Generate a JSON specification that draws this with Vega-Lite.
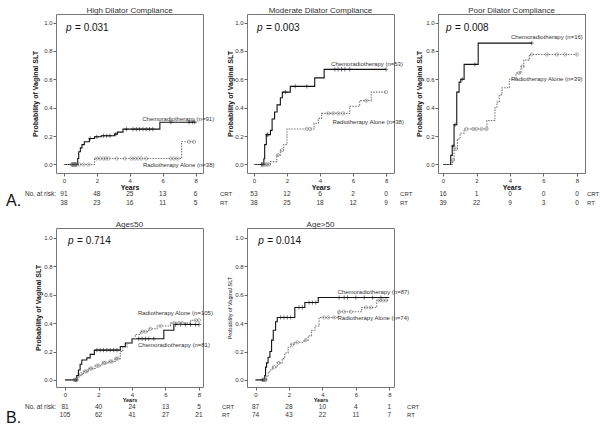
{
"$schema":"https://vega.github.io/schema/vega-lite/v6.json",
"padding":{"left":5,"top":6,"right":0,"bottom":0},
"columns":3,
"spacing":{"row":55,"column":44},
"bounds":"flush",
"datasets":{
"km":[
{"g":"H","a":"CRT","t":0,"p":0},{"g":"H","a":"CRT","t":0.84,"p":0.042},{"g":"H","a":"CRT","t":0.9,"p":0.09},{"g":"H","a":"CRT","t":1.0,"p":0.117},{"g":"H","a":"CRT","t":1.1,"p":0.14},{"g":"H","a":"CRT","t":1.24,"p":0.16},{"g":"H","a":"CRT","t":1.55,"p":0.183},{"g":"H","a":"CRT","t":1.86,"p":0.195},{"g":"H","a":"CRT","t":2.27,"p":0.202},{"g":"H","a":"CRT","t":3.08,"p":0.214},{"g":"H","a":"CRT","t":3.25,"p":0.228},{"g":"H","a":"CRT","t":3.59,"p":0.249},{"g":"H","a":"CRT","t":5.83,"p":0.298},{"g":"H","a":"CRT","t":8.0,"p":0.298},
{"g":"H","a":"RT","t":0,"p":0},{"g":"H","a":"RT","t":1.86,"p":0.042},{"g":"H","a":"RT","t":7.15,"p":0.16},{"g":"H","a":"RT","t":8.0,"p":0.16},
{"g":"M","a":"CRT","t":0,"p":0},{"g":"M","a":"CRT","t":0.6,"p":0.04},{"g":"M","a":"CRT","t":0.65,"p":0.14},{"g":"M","a":"CRT","t":0.75,"p":0.21},{"g":"M","a":"CRT","t":1.0,"p":0.24},{"g":"M","a":"CRT","t":1.1,"p":0.32},{"g":"M","a":"CRT","t":1.25,"p":0.37},{"g":"M","a":"CRT","t":1.4,"p":0.42},{"g":"M","a":"CRT","t":1.6,"p":0.47},{"g":"M","a":"CRT","t":1.72,"p":0.51},{"g":"M","a":"CRT","t":2.2,"p":0.55},{"g":"M","a":"CRT","t":3.68,"p":0.61},{"g":"M","a":"CRT","t":4.25,"p":0.67},{"g":"M","a":"CRT","t":8.0,"p":0.67},
{"g":"M","a":"RT","t":0,"p":0},{"g":"M","a":"RT","t":1.0,"p":0.02},{"g":"M","a":"RT","t":1.38,"p":0.066},{"g":"M","a":"RT","t":1.6,"p":0.1},{"g":"M","a":"RT","t":1.8,"p":0.14},{"g":"M","a":"RT","t":2.0,"p":0.25},{"g":"M","a":"RT","t":3.64,"p":0.29},{"g":"M","a":"RT","t":3.9,"p":0.325},{"g":"M","a":"RT","t":4.1,"p":0.36},{"g":"M","a":"RT","t":5.8,"p":0.41},{"g":"M","a":"RT","t":6.4,"p":0.45},{"g":"M","a":"RT","t":7.1,"p":0.51},{"g":"M","a":"RT","t":8.0,"p":0.51},
{"g":"P","a":"CRT","t":0,"p":0},{"g":"P","a":"CRT","t":0.46,"p":0.064},{"g":"P","a":"CRT","t":0.55,"p":0.13},{"g":"P","a":"CRT","t":0.66,"p":0.28},{"g":"P","a":"CRT","t":0.82,"p":0.51},{"g":"P","a":"CRT","t":0.96,"p":0.58},{"g":"P","a":"CRT","t":1.06,"p":0.6},{"g":"P","a":"CRT","t":1.26,"p":0.705},{"g":"P","a":"CRT","t":2.1,"p":0.855},{"g":"P","a":"CRT","t":5.3,"p":0.855},
{"g":"P","a":"RT","t":0,"p":0},{"g":"P","a":"RT","t":0.56,"p":0.03},{"g":"P","a":"RT","t":0.66,"p":0.11},{"g":"P","a":"RT","t":0.86,"p":0.18},{"g":"P","a":"RT","t":1.02,"p":0.22},{"g":"P","a":"RT","t":1.26,"p":0.25},{"g":"P","a":"RT","t":2.62,"p":0.31},{"g":"P","a":"RT","t":3.1,"p":0.4},{"g":"P","a":"RT","t":3.22,"p":0.44},{"g":"P","a":"RT","t":3.36,"p":0.49},{"g":"P","a":"RT","t":3.52,"p":0.54},{"g":"P","a":"RT","t":3.96,"p":0.6},{"g":"P","a":"RT","t":4.36,"p":0.645},{"g":"P","a":"RT","t":4.66,"p":0.69},{"g":"P","a":"RT","t":4.82,"p":0.735},{"g":"P","a":"RT","t":5.16,"p":0.775},{"g":"P","a":"RT","t":8.0,"p":0.775},
{"g":"Y","a":"CRT","t":0,"p":0},{"g":"Y","a":"CRT","t":0.7,"p":0.03},{"g":"Y","a":"CRT","t":0.8,"p":0.07},{"g":"Y","a":"CRT","t":0.9,"p":0.11},{"g":"Y","a":"CRT","t":1.0,"p":0.14},{"g":"Y","a":"CRT","t":1.3,"p":0.155},{"g":"Y","a":"CRT","t":1.5,"p":0.18},{"g":"Y","a":"CRT","t":1.75,"p":0.21},{"g":"Y","a":"CRT","t":3.3,"p":0.235},{"g":"Y","a":"CRT","t":3.6,"p":0.26},{"g":"Y","a":"CRT","t":4.0,"p":0.29},{"g":"Y","a":"CRT","t":5.9,"p":0.35},{"g":"Y","a":"CRT","t":6.5,"p":0.39},{"g":"Y","a":"CRT","t":8.0,"p":0.39},
{"g":"Y","a":"RT","t":0,"p":0},{"g":"Y","a":"RT","t":0.75,"p":0.02},{"g":"Y","a":"RT","t":0.9,"p":0.04},{"g":"Y","a":"RT","t":1.1,"p":0.06},{"g":"Y","a":"RT","t":1.4,"p":0.08},{"g":"Y","a":"RT","t":1.8,"p":0.1},{"g":"Y","a":"RT","t":2.2,"p":0.12},{"g":"Y","a":"RT","t":2.6,"p":0.13},{"g":"Y","a":"RT","t":3.0,"p":0.15},{"g":"Y","a":"RT","t":3.3,"p":0.2},{"g":"Y","a":"RT","t":3.45,"p":0.23},{"g":"Y","a":"RT","t":3.7,"p":0.26},{"g":"Y","a":"RT","t":4.0,"p":0.29},{"g":"Y","a":"RT","t":4.2,"p":0.32},{"g":"Y","a":"RT","t":4.5,"p":0.34},{"g":"Y","a":"RT","t":5.0,"p":0.36},{"g":"Y","a":"RT","t":5.5,"p":0.38},{"g":"Y","a":"RT","t":6.3,"p":0.4},{"g":"Y","a":"RT","t":7.5,"p":0.42},{"g":"Y","a":"RT","t":8.0,"p":0.42},
{"g":"O","a":"CRT","t":0,"p":0},{"g":"O","a":"CRT","t":0.55,"p":0.03},{"g":"O","a":"CRT","t":0.6,"p":0.09},{"g":"O","a":"CRT","t":0.66,"p":0.12},{"g":"O","a":"CRT","t":0.75,"p":0.16},{"g":"O","a":"CRT","t":0.86,"p":0.2},{"g":"O","a":"CRT","t":0.96,"p":0.28},{"g":"O","a":"CRT","t":1.06,"p":0.35},{"g":"O","a":"CRT","t":1.2,"p":0.41},{"g":"O","a":"CRT","t":1.3,"p":0.44},{"g":"O","a":"CRT","t":2.35,"p":0.51},{"g":"O","a":"CRT","t":2.95,"p":0.545},{"g":"O","a":"CRT","t":3.75,"p":0.58},{"g":"O","a":"CRT","t":8.0,"p":0.58},
{"g":"O","a":"RT","t":0,"p":0},{"g":"O","a":"RT","t":0.65,"p":0.02},{"g":"O","a":"RT","t":0.75,"p":0.05},{"g":"O","a":"RT","t":0.85,"p":0.07},{"g":"O","a":"RT","t":1.0,"p":0.09},{"g":"O","a":"RT","t":1.3,"p":0.12},{"g":"O","a":"RT","t":1.6,"p":0.15},{"g":"O","a":"RT","t":1.75,"p":0.19},{"g":"O","a":"RT","t":1.95,"p":0.23},{"g":"O","a":"RT","t":2.1,"p":0.25},{"g":"O","a":"RT","t":2.35,"p":0.265},{"g":"O","a":"RT","t":2.9,"p":0.28},{"g":"O","a":"RT","t":3.15,"p":0.31},{"g":"O","a":"RT","t":3.35,"p":0.35},{"g":"O","a":"RT","t":3.55,"p":0.38},{"g":"O","a":"RT","t":3.8,"p":0.44},{"g":"O","a":"RT","t":4.95,"p":0.48},{"g":"O","a":"RT","t":6.35,"p":0.51},{"g":"O","a":"RT","t":7.25,"p":0.56},{"g":"O","a":"RT","t":8.0,"p":0.56}
],
"cens":[
{"g":"H","a":"CRT","t":0.5,"p":0},{"g":"H","a":"CRT","t":0.55,"p":0},{"g":"H","a":"CRT","t":0.6,"p":0},{"g":"H","a":"CRT","t":0.65,"p":0},{"g":"H","a":"CRT","t":0.7,"p":0},{"g":"H","a":"CRT","t":0.75,"p":0},{"g":"H","a":"CRT","t":1.6,"p":0.183},{"g":"H","a":"CRT","t":2.0,"p":0.195},{"g":"H","a":"CRT","t":2.4,"p":0.202},{"g":"H","a":"CRT","t":2.6,"p":0.202},{"g":"H","a":"CRT","t":2.8,"p":0.202},{"g":"H","a":"CRT","t":3.15,"p":0.214},{"g":"H","a":"CRT","t":3.8,"p":0.249},{"g":"H","a":"CRT","t":4.2,"p":0.249},{"g":"H","a":"CRT","t":4.4,"p":0.249},{"g":"H","a":"CRT","t":4.6,"p":0.249},{"g":"H","a":"CRT","t":4.8,"p":0.249},{"g":"H","a":"CRT","t":5.0,"p":0.249},{"g":"H","a":"CRT","t":5.2,"p":0.249},{"g":"H","a":"CRT","t":5.4,"p":0.249},{"g":"H","a":"CRT","t":6.5,"p":0.298},{"g":"H","a":"CRT","t":7.6,"p":0.298},{"g":"H","a":"CRT","t":7.8,"p":0.298},{"g":"H","a":"CRT","t":7.95,"p":0.298},
{"g":"H","a":"RT","t":0.45,"p":0},{"g":"H","a":"RT","t":0.55,"p":0},{"g":"H","a":"RT","t":0.6,"p":0},{"g":"H","a":"RT","t":0.7,"p":0},{"g":"H","a":"RT","t":0.8,"p":0},{"g":"H","a":"RT","t":0.95,"p":0},{"g":"H","a":"RT","t":1.2,"p":0},{"g":"H","a":"RT","t":1.5,"p":0},{"g":"H","a":"RT","t":2.0,"p":0.042},{"g":"H","a":"RT","t":2.2,"p":0.042},{"g":"H","a":"RT","t":2.4,"p":0.042},{"g":"H","a":"RT","t":2.55,"p":0.042},{"g":"H","a":"RT","t":2.7,"p":0.042},{"g":"H","a":"RT","t":3.2,"p":0.042},{"g":"H","a":"RT","t":3.7,"p":0.042},{"g":"H","a":"RT","t":4.1,"p":0.042},{"g":"H","a":"RT","t":4.3,"p":0.042},{"g":"H","a":"RT","t":4.5,"p":0.042},{"g":"H","a":"RT","t":4.7,"p":0.042},{"g":"H","a":"RT","t":5.0,"p":0.042},{"g":"H","a":"RT","t":6.5,"p":0.042},{"g":"H","a":"RT","t":6.7,"p":0.042},{"g":"H","a":"RT","t":6.9,"p":0.042},{"g":"H","a":"RT","t":7.6,"p":0.16},{"g":"H","a":"RT","t":7.9,"p":0.16},
{"g":"M","a":"CRT","t":0.45,"p":0},{"g":"M","a":"CRT","t":0.5,"p":0},{"g":"M","a":"CRT","t":0.55,"p":0},{"g":"M","a":"CRT","t":0.8,"p":0.21},{"g":"M","a":"CRT","t":0.85,"p":0.21},{"g":"M","a":"CRT","t":1.9,"p":0.51},{"g":"M","a":"CRT","t":2.5,"p":0.55},{"g":"M","a":"CRT","t":3.2,"p":0.55},{"g":"M","a":"CRT","t":4.9,"p":0.67},{"g":"M","a":"CRT","t":5.1,"p":0.67},{"g":"M","a":"CRT","t":5.3,"p":0.67},{"g":"M","a":"CRT","t":5.5,"p":0.67},{"g":"M","a":"CRT","t":5.8,"p":0.67},{"g":"M","a":"CRT","t":8.0,"p":0.67},
{"g":"M","a":"RT","t":0.6,"p":0},{"g":"M","a":"RT","t":0.7,"p":0},{"g":"M","a":"RT","t":0.8,"p":0},{"g":"M","a":"RT","t":0.9,"p":0},{"g":"M","a":"RT","t":1.45,"p":0.066},{"g":"M","a":"RT","t":1.7,"p":0.1},{"g":"M","a":"RT","t":3.2,"p":0.25},{"g":"M","a":"RT","t":3.4,"p":0.25},{"g":"M","a":"RT","t":4.5,"p":0.36},{"g":"M","a":"RT","t":4.8,"p":0.36},{"g":"M","a":"RT","t":5.1,"p":0.36},{"g":"M","a":"RT","t":5.4,"p":0.36},{"g":"M","a":"RT","t":6.8,"p":0.45},{"g":"M","a":"RT","t":8.0,"p":0.51},
{"g":"P","a":"CRT","t":0.6,"p":0.13},{"g":"P","a":"CRT","t":0.72,"p":0.28},{"g":"P","a":"CRT","t":1.15,"p":0.6},{"g":"P","a":"CRT","t":1.9,"p":0.705},{"g":"P","a":"CRT","t":5.3,"p":0.855},
{"g":"P","a":"RT","t":0.6,"p":0.03},{"g":"P","a":"RT","t":0.75,"p":0.11},{"g":"P","a":"RT","t":1.4,"p":0.25},{"g":"P","a":"RT","t":1.8,"p":0.25},{"g":"P","a":"RT","t":2.0,"p":0.25},{"g":"P","a":"RT","t":2.3,"p":0.25},{"g":"P","a":"RT","t":2.6,"p":0.25},{"g":"P","a":"RT","t":4.55,"p":0.645},{"g":"P","a":"RT","t":4.75,"p":0.69},{"g":"P","a":"RT","t":5.3,"p":0.775},{"g":"P","a":"RT","t":6.2,"p":0.775},{"g":"P","a":"RT","t":6.8,"p":0.775},{"g":"P","a":"RT","t":7.3,"p":0.775},{"g":"P","a":"RT","t":8.0,"p":0.775},
{"g":"Y","a":"CRT","t":0.6,"p":0},{"g":"Y","a":"CRT","t":0.65,"p":0},{"g":"Y","a":"CRT","t":1.9,"p":0.21},{"g":"Y","a":"CRT","t":2.1,"p":0.21},{"g":"Y","a":"CRT","t":2.3,"p":0.21},{"g":"Y","a":"CRT","t":2.5,"p":0.21},{"g":"Y","a":"CRT","t":2.7,"p":0.21},{"g":"Y","a":"CRT","t":2.9,"p":0.21},{"g":"Y","a":"CRT","t":3.1,"p":0.21},{"g":"Y","a":"CRT","t":4.4,"p":0.29},{"g":"Y","a":"CRT","t":4.6,"p":0.29},{"g":"Y","a":"CRT","t":4.8,"p":0.29},{"g":"Y","a":"CRT","t":5.0,"p":0.29},{"g":"Y","a":"CRT","t":5.3,"p":0.29},{"g":"Y","a":"CRT","t":6.6,"p":0.39},{"g":"Y","a":"CRT","t":6.9,"p":0.39},{"g":"Y","a":"CRT","t":7.2,"p":0.39},{"g":"Y","a":"CRT","t":7.5,"p":0.39},{"g":"Y","a":"CRT","t":7.8,"p":0.39},{"g":"Y","a":"CRT","t":8.0,"p":0.39},
{"g":"Y","a":"RT","t":0.55,"p":0},{"g":"Y","a":"RT","t":0.65,"p":0},{"g":"Y","a":"RT","t":0.7,"p":0},{"g":"Y","a":"RT","t":0.95,"p":0.04},{"g":"Y","a":"RT","t":1.2,"p":0.06},{"g":"Y","a":"RT","t":1.3,"p":0.06},{"g":"Y","a":"RT","t":1.5,"p":0.08},{"g":"Y","a":"RT","t":1.6,"p":0.08},{"g":"Y","a":"RT","t":1.9,"p":0.1},{"g":"Y","a":"RT","t":2.0,"p":0.1},{"g":"Y","a":"RT","t":2.3,"p":0.12},{"g":"Y","a":"RT","t":2.4,"p":0.12},{"g":"Y","a":"RT","t":2.7,"p":0.13},{"g":"Y","a":"RT","t":2.8,"p":0.13},{"g":"Y","a":"RT","t":3.05,"p":0.15},{"g":"Y","a":"RT","t":3.15,"p":0.15},{"g":"Y","a":"RT","t":4.6,"p":0.34},{"g":"Y","a":"RT","t":4.8,"p":0.34},{"g":"Y","a":"RT","t":5.1,"p":0.36},{"g":"Y","a":"RT","t":5.7,"p":0.38},{"g":"Y","a":"RT","t":6.5,"p":0.4},{"g":"Y","a":"RT","t":6.8,"p":0.4},{"g":"Y","a":"RT","t":7.0,"p":0.4},{"g":"Y","a":"RT","t":7.8,"p":0.42},{"g":"Y","a":"RT","t":8.0,"p":0.42},
{"g":"O","a":"CRT","t":0.4,"p":0},{"g":"O","a":"CRT","t":0.5,"p":0},{"g":"O","a":"CRT","t":1.5,"p":0.44},{"g":"O","a":"CRT","t":1.7,"p":0.44},{"g":"O","a":"CRT","t":1.9,"p":0.44},{"g":"O","a":"CRT","t":2.1,"p":0.44},{"g":"O","a":"CRT","t":2.6,"p":0.51},{"g":"O","a":"CRT","t":2.8,"p":0.51},{"g":"O","a":"CRT","t":3.2,"p":0.545},{"g":"O","a":"CRT","t":3.4,"p":0.545},{"g":"O","a":"CRT","t":3.6,"p":0.545},{"g":"O","a":"CRT","t":5.0,"p":0.58},{"g":"O","a":"CRT","t":5.3,"p":0.58},{"g":"O","a":"CRT","t":5.5,"p":0.58},{"g":"O","a":"CRT","t":6.0,"p":0.58},{"g":"O","a":"CRT","t":6.5,"p":0.58},{"g":"O","a":"CRT","t":7.0,"p":0.58},{"g":"O","a":"CRT","t":7.5,"p":0.58},
{"g":"O","a":"RT","t":0.45,"p":0},{"g":"O","a":"RT","t":0.55,"p":0},{"g":"O","a":"RT","t":0.6,"p":0},{"g":"O","a":"RT","t":1.1,"p":0.09},{"g":"O","a":"RT","t":1.4,"p":0.12},{"g":"O","a":"RT","t":2.2,"p":0.25},{"g":"O","a":"RT","t":2.5,"p":0.265},{"g":"O","a":"RT","t":3.0,"p":0.28},{"g":"O","a":"RT","t":4.1,"p":0.44},{"g":"O","a":"RT","t":4.35,"p":0.44},{"g":"O","a":"RT","t":4.7,"p":0.44},{"g":"O","a":"RT","t":5.0,"p":0.48},{"g":"O","a":"RT","t":5.3,"p":0.48},{"g":"O","a":"RT","t":5.7,"p":0.48},{"g":"O","a":"RT","t":6.6,"p":0.51},{"g":"O","a":"RT","t":6.9,"p":0.51},{"g":"O","a":"RT","t":7.4,"p":0.56},{"g":"O","a":"RT","t":7.6,"p":0.56},{"g":"O","a":"RT","t":7.8,"p":0.56}
],
"risk":[
{"g":"H","a":"CRT","t":0,"n":"91"},{"g":"H","a":"CRT","t":2,"n":"48"},{"g":"H","a":"CRT","t":4,"n":"25"},{"g":"H","a":"CRT","t":6,"n":"13"},{"g":"H","a":"CRT","t":8,"n":"6"},
{"g":"H","a":"RT","t":0,"n":"38"},{"g":"H","a":"RT","t":2,"n":"23"},{"g":"H","a":"RT","t":4,"n":"16"},{"g":"H","a":"RT","t":6,"n":"11"},{"g":"H","a":"RT","t":8,"n":"5"},
{"g":"M","a":"CRT","t":0,"n":"53"},{"g":"M","a":"CRT","t":2,"n":"12"},{"g":"M","a":"CRT","t":4,"n":"6"},{"g":"M","a":"CRT","t":6,"n":"2"},{"g":"M","a":"CRT","t":8,"n":"0"},
{"g":"M","a":"RT","t":0,"n":"38"},{"g":"M","a":"RT","t":2,"n":"25"},{"g":"M","a":"RT","t":4,"n":"18"},{"g":"M","a":"RT","t":6,"n":"12"},{"g":"M","a":"RT","t":8,"n":"9"},
{"g":"P","a":"CRT","t":0,"n":"16"},{"g":"P","a":"CRT","t":2,"n":"1"},{"g":"P","a":"CRT","t":4,"n":"0"},{"g":"P","a":"CRT","t":6,"n":"0"},{"g":"P","a":"CRT","t":8,"n":"0"},
{"g":"P","a":"RT","t":0,"n":"39"},{"g":"P","a":"RT","t":2,"n":"22"},{"g":"P","a":"RT","t":4,"n":"9"},{"g":"P","a":"RT","t":6,"n":"3"},{"g":"P","a":"RT","t":8,"n":"0"},
{"g":"Y","a":"CRT","t":0,"n":"81"},{"g":"Y","a":"CRT","t":2,"n":"40"},{"g":"Y","a":"CRT","t":4,"n":"24"},{"g":"Y","a":"CRT","t":6,"n":"13"},{"g":"Y","a":"CRT","t":8,"n":"5"},
{"g":"Y","a":"RT","t":0,"n":"105"},{"g":"Y","a":"RT","t":2,"n":"62"},{"g":"Y","a":"RT","t":4,"n":"41"},{"g":"Y","a":"RT","t":6,"n":"27"},{"g":"Y","a":"RT","t":8,"n":"21"},
{"g":"O","a":"CRT","t":0,"n":"87"},{"g":"O","a":"CRT","t":2,"n":"28"},{"g":"O","a":"CRT","t":4,"n":"10"},{"g":"O","a":"CRT","t":6,"n":"4"},{"g":"O","a":"CRT","t":8,"n":"1"},
{"g":"O","a":"RT","t":0,"n":"74"},{"g":"O","a":"RT","t":2,"n":"43"},{"g":"O","a":"RT","t":4,"n":"22"},{"g":"O","a":"RT","t":6,"n":"11"},{"g":"O","a":"RT","t":8,"n":"7"}
]
},
"concat":[
{"width":147,"height":159,"title":"High Dilator Compliance","resolve":{"axis":{"x":"independent","y":"independent"}},"layer":[
{"data":{"name":"km"},"transform":[{"filter":"datum.g=='H'"}],"mark":{"type":"line","interpolate":"step-after","strokeWidth":1.1},"encoding":{"x":{"field":"t","type":"quantitative","scale":{"domain":[-0.48,8.45],"nice":false,"zero":false},"axis":{"values":[0,2,4,6,8],"labelOverlap":false,"title":"Years","titlePadding":0}},"y":{"field":"p","type":"quantitative","scale":{"domain":[-0.06,1.06],"nice":false,"zero":false},"axis":{"values":[0,0.2,0.4,0.6,0.8,1],"labelOverlap":false,"format":".1f","title":"Probability of Vaginal SLT","titlePadding":5}},"color":{"field":"a","type":"nominal","scale":{"domain":["CRT","RT"],"range":["#111111","#777777"]},"legend":null},"strokeDash":{"field":"a","type":"nominal","scale":{"domain":["CRT","RT"],"range":[[1,0],[1.5,1.2]]},"legend":null}}},
{"data":{"name":"cens"},"transform":[{"filter":"datum.g=='H'"}],"mark":{"type":"point","filled":false,"size":11,"strokeWidth":0.8},"encoding":{"x":{"field":"t","type":"quantitative","scale":{"domain":[-0.48,8.45],"nice":false,"zero":false},"axis":null},"y":{"field":"p","type":"quantitative","scale":{"domain":[-0.06,1.06],"nice":false,"zero":false},"axis":null},"color":{"field":"a","type":"nominal","scale":{"domain":["CRT","RT"],"range":["#111111","#777777"]},"legend":null},"shape":{"field":"a","type":"nominal","scale":{"domain":["CRT","RT"],"range":["M0,-1.3L0,1.3M-1.3,0L1.3,0","circle"]},"legend":null}}},
{"data":{"values":[{}]},"mark":{"type":"text","text":"p","font":"Liberation Sans","fontSize":10,"fontStyle":"italic","align":"left","baseline":"middle","fill":"#111111"},"encoding":{"x":{"datum":0.13,"type":"quantitative","scale":{"domain":[-0.48,8.45],"nice":false,"zero":false},"axis":null},"y":{"datum":0.96,"type":"quantitative","scale":{"domain":[-0.06,1.06],"nice":false,"zero":false},"axis":null}}},
{"data":{"values":[{}]},"mark":{"type":"text","text":"= 0.031","font":"Liberation Sans","fontSize":10,"align":"left","baseline":"middle","dx":9,"fill":"#111111"},"encoding":{"x":{"datum":0.13,"type":"quantitative","scale":{"domain":[-0.48,8.45],"nice":false,"zero":false},"axis":null},"y":{"datum":0.96,"type":"quantitative","scale":{"domain":[-0.06,1.06],"nice":false,"zero":false},"axis":null}}},
{"data":{"values":[{}]},"mark":{"type":"text","text":"Chemoradiotherapy (n=91)","font":"Liberation Sans","fontSize":6,"align":"left","baseline":"middle","fill":"#333333"},"encoding":{"x":{"datum":4.76,"type":"quantitative","scale":{"domain":[-0.48,8.45],"nice":false,"zero":false},"axis":null},"y":{"datum":0.32,"type":"quantitative","scale":{"domain":[-0.06,1.06],"nice":false,"zero":false},"axis":null}}},
{"data":{"values":[{}]},"mark":{"type":"text","text":"Radiotherapy Alone (n=38)","font":"Liberation Sans","fontSize":6,"align":"left","baseline":"middle","fill":"#333333"},"encoding":{"x":{"datum":4.8,"type":"quantitative","scale":{"domain":[-0.48,8.45],"nice":false,"zero":false},"axis":null},"y":{"datum":-0.005,"type":"quantitative","scale":{"domain":[-0.06,1.06],"nice":false,"zero":false},"axis":null}}},
{"data":{"name":"risk"},"transform":[{"filter":"datum.g=='H' && datum.a=='CRT'"}],"mark":{"type":"text","font":"Liberation Sans","fontSize":6.5,"baseline":"middle","fill":"#333333"},"encoding":{"x":{"field":"t","type":"quantitative","scale":{"domain":[-0.48,8.45],"nice":false,"zero":false},"axis":null},"y":{"datum":-0.211,"type":"quantitative","scale":{"domain":[-0.06,1.06],"nice":false,"zero":false},"axis":null},"text":{"field":"n"}}},
{"data":{"name":"risk"},"transform":[{"filter":"datum.g=='H' && datum.a=='RT'"}],"mark":{"type":"text","font":"Liberation Sans","fontSize":6.5,"baseline":"middle","fill":"#333333"},"encoding":{"x":{"field":"t","type":"quantitative","scale":{"domain":[-0.48,8.45],"nice":false,"zero":false},"axis":null},"y":{"datum":-0.268,"type":"quantitative","scale":{"domain":[-0.06,1.06],"nice":false,"zero":false},"axis":null},"text":{"field":"n"}}},
{"data":{"values":[{}]},"mark":{"type":"text","text":"CRT","font":"Liberation Sans","fontSize":6,"align":"left","baseline":"middle","fill":"#333333"},"encoding":{"x":{"datum":9.48,"type":"quantitative","scale":{"domain":[-0.48,8.45],"nice":false,"zero":false},"axis":null},"y":{"datum":-0.211,"type":"quantitative","scale":{"domain":[-0.06,1.06],"nice":false,"zero":false},"axis":null}}},
{"data":{"values":[{}]},"mark":{"type":"text","text":"RT","font":"Liberation Sans","fontSize":6,"align":"left","baseline":"middle","fill":"#333333"},"encoding":{"x":{"datum":9.48,"type":"quantitative","scale":{"domain":[-0.48,8.45],"nice":false,"zero":false},"axis":null},"y":{"datum":-0.268,"type":"quantitative","scale":{"domain":[-0.06,1.06],"nice":false,"zero":false},"axis":null}}},
{"data":{"values":[{}]},"mark":{"type":"text","text":"No. at risk:","font":"Liberation Sans","fontSize":6.5,"align":"right","baseline":"middle","fill":"#333333"},"encoding":{"x":{"datum":-0.48,"type":"quantitative","scale":{"domain":[-0.48,8.45],"nice":false,"zero":false},"axis":null},"y":{"datum":-0.211,"type":"quantitative","scale":{"domain":[-0.06,1.06],"nice":false,"zero":false},"axis":null}}},
{"data":{"values":[{}]},"mark":{"type":"text","text":"A.","font":"Liberation Sans","fontSize":16,"align":"left","baseline":"middle","fill":"#111111"},"encoding":{"x":{"datum":-3.52,"type":"quantitative","scale":{"domain":[-0.48,8.45],"nice":false,"zero":false},"axis":null},"y":{"datum":-0.257,"type":"quantitative","scale":{"domain":[-0.06,1.06],"nice":false,"zero":false},"axis":null}}}
]},
{"width":147,"height":159,"title":"Moderate Dilator Compliance","resolve":{"axis":{"x":"independent","y":"independent"}},"layer":[
{"data":{"name":"km"},"transform":[{"filter":"datum.g=='M'"}],"mark":{"type":"line","interpolate":"step-after","strokeWidth":1.1},"encoding":{"x":{"field":"t","type":"quantitative","scale":{"domain":[-0.42,8.48],"nice":false,"zero":false},"axis":{"values":[0,2,4,6,8],"labelOverlap":false,"title":"Years","titlePadding":0}},"y":{"field":"p","type":"quantitative","scale":{"domain":[-0.06,1.06],"nice":false,"zero":false},"axis":{"values":[0,0.2,0.4,0.6,0.8,1],"labelOverlap":false,"format":".1f","title":"Probability of Vaginal SLT","titlePadding":1}},"color":{"field":"a","type":"nominal","scale":{"domain":["CRT","RT"],"range":["#111111","#777777"]},"legend":null},"strokeDash":{"field":"a","type":"nominal","scale":{"domain":["CRT","RT"],"range":[[1,0],[1.5,1.2]]},"legend":null}}},
{"data":{"name":"cens"},"transform":[{"filter":"datum.g=='M'"}],"mark":{"type":"point","filled":false,"size":11,"strokeWidth":0.8},"encoding":{"x":{"field":"t","type":"quantitative","scale":{"domain":[-0.42,8.48],"nice":false,"zero":false},"axis":null},"y":{"field":"p","type":"quantitative","scale":{"domain":[-0.06,1.06],"nice":false,"zero":false},"axis":null},"color":{"field":"a","type":"nominal","scale":{"domain":["CRT","RT"],"range":["#111111","#777777"]},"legend":null},"shape":{"field":"a","type":"nominal","scale":{"domain":["CRT","RT"],"range":["M0,-1.3L0,1.3M-1.3,0L1.3,0","circle"]},"legend":null}}},
{"data":{"values":[{}]},"mark":{"type":"text","text":"p","font":"Liberation Sans","fontSize":10,"fontStyle":"italic","align":"left","baseline":"middle","fill":"#111111"},"encoding":{"x":{"datum":0.18,"type":"quantitative","scale":{"domain":[-0.42,8.48],"nice":false,"zero":false},"axis":null},"y":{"datum":0.96,"type":"quantitative","scale":{"domain":[-0.06,1.06],"nice":false,"zero":false},"axis":null}}},
{"data":{"values":[{}]},"mark":{"type":"text","text":"= 0.003","font":"Liberation Sans","fontSize":10,"align":"left","baseline":"middle","dx":9,"fill":"#111111"},"encoding":{"x":{"datum":0.18,"type":"quantitative","scale":{"domain":[-0.42,8.48],"nice":false,"zero":false},"axis":null},"y":{"datum":0.96,"type":"quantitative","scale":{"domain":[-0.06,1.06],"nice":false,"zero":false},"axis":null}}},
{"data":{"values":[{}]},"mark":{"type":"text","text":"Chemoradiotherapy (n=53)","font":"Liberation Sans","fontSize":6,"align":"left","baseline":"middle","fill":"#333333"},"encoding":{"x":{"datum":4.67,"type":"quantitative","scale":{"domain":[-0.42,8.48],"nice":false,"zero":false},"axis":null},"y":{"datum":0.71,"type":"quantitative","scale":{"domain":[-0.06,1.06],"nice":false,"zero":false},"axis":null}}},
{"data":{"values":[{}]},"mark":{"type":"text","text":"Radiotherapy Alone (n=38)","font":"Liberation Sans","fontSize":6,"align":"left","baseline":"middle","fill":"#333333"},"encoding":{"x":{"datum":4.75,"type":"quantitative","scale":{"domain":[-0.42,8.48],"nice":false,"zero":false},"axis":null},"y":{"datum":0.3,"type":"quantitative","scale":{"domain":[-0.06,1.06],"nice":false,"zero":false},"axis":null}}},
{"data":{"name":"risk"},"transform":[{"filter":"datum.g=='M' && datum.a=='CRT'"}],"mark":{"type":"text","font":"Liberation Sans","fontSize":6.5,"baseline":"middle","fill":"#333333"},"encoding":{"x":{"field":"t","type":"quantitative","scale":{"domain":[-0.42,8.48],"nice":false,"zero":false},"axis":null},"y":{"datum":-0.211,"type":"quantitative","scale":{"domain":[-0.06,1.06],"nice":false,"zero":false},"axis":null},"text":{"field":"n"}}},
{"data":{"name":"risk"},"transform":[{"filter":"datum.g=='M' && datum.a=='RT'"}],"mark":{"type":"text","font":"Liberation Sans","fontSize":6.5,"baseline":"middle","fill":"#333333"},"encoding":{"x":{"field":"t","type":"quantitative","scale":{"domain":[-0.42,8.48],"nice":false,"zero":false},"axis":null},"y":{"datum":-0.268,"type":"quantitative","scale":{"domain":[-0.06,1.06],"nice":false,"zero":false},"axis":null},"text":{"field":"n"}}},
{"data":{"values":[{}]},"mark":{"type":"text","text":"CRT","font":"Liberation Sans","fontSize":6,"align":"left","baseline":"middle","fill":"#333333"},"encoding":{"x":{"datum":8.85,"type":"quantitative","scale":{"domain":[-0.42,8.48],"nice":false,"zero":false},"axis":null},"y":{"datum":-0.211,"type":"quantitative","scale":{"domain":[-0.06,1.06],"nice":false,"zero":false},"axis":null}}},
{"data":{"values":[{}]},"mark":{"type":"text","text":"RT","font":"Liberation Sans","fontSize":6,"align":"left","baseline":"middle","fill":"#333333"},"encoding":{"x":{"datum":8.85,"type":"quantitative","scale":{"domain":[-0.42,8.48],"nice":false,"zero":false},"axis":null},"y":{"datum":-0.268,"type":"quantitative","scale":{"domain":[-0.06,1.06],"nice":false,"zero":false},"axis":null}}}
]},
{"width":147,"height":159,"title":"Poor Dilator Compliance","resolve":{"axis":{"x":"independent","y":"independent"}},"layer":[
{"data":{"name":"km"},"transform":[{"filter":"datum.g=='P'"}],"mark":{"type":"line","interpolate":"step-after","strokeWidth":1.1},"encoding":{"x":{"field":"t","type":"quantitative","scale":{"domain":[-0.3,8.48],"nice":false,"zero":false},"axis":{"values":[0,2,4,6,8],"labelOverlap":false,"title":"Years","titlePadding":0}},"y":{"field":"p","type":"quantitative","scale":{"domain":[-0.06,1.06],"nice":false,"zero":false},"axis":{"values":[0,0.2,0.4,0.6,0.8,1],"labelOverlap":false,"format":".1f","title":"Probability of Vaginal SLT","titlePadding":3}},"color":{"field":"a","type":"nominal","scale":{"domain":["CRT","RT"],"range":["#111111","#777777"]},"legend":null},"strokeDash":{"field":"a","type":"nominal","scale":{"domain":["CRT","RT"],"range":[[1,0],[1.5,1.2]]},"legend":null}}},
{"data":{"name":"cens"},"transform":[{"filter":"datum.g=='P'"}],"mark":{"type":"point","filled":false,"size":11,"strokeWidth":0.8},"encoding":{"x":{"field":"t","type":"quantitative","scale":{"domain":[-0.3,8.48],"nice":false,"zero":false},"axis":null},"y":{"field":"p","type":"quantitative","scale":{"domain":[-0.06,1.06],"nice":false,"zero":false},"axis":null},"color":{"field":"a","type":"nominal","scale":{"domain":["CRT","RT"],"range":["#111111","#777777"]},"legend":null},"shape":{"field":"a","type":"nominal","scale":{"domain":["CRT","RT"],"range":["M0,-1.3L0,1.3M-1.3,0L1.3,0","circle"]},"legend":null}}},
{"data":{"values":[{}]},"mark":{"type":"text","text":"p","font":"Liberation Sans","fontSize":10,"fontStyle":"italic","align":"left","baseline":"middle","fill":"#111111"},"encoding":{"x":{"datum":0.18,"type":"quantitative","scale":{"domain":[-0.3,8.48],"nice":false,"zero":false},"axis":null},"y":{"datum":0.96,"type":"quantitative","scale":{"domain":[-0.06,1.06],"nice":false,"zero":false},"axis":null}}},
{"data":{"values":[{}]},"mark":{"type":"text","text":"= 0.008","font":"Liberation Sans","fontSize":10,"align":"left","baseline":"middle","dx":9,"fill":"#111111"},"encoding":{"x":{"datum":0.18,"type":"quantitative","scale":{"domain":[-0.3,8.48],"nice":false,"zero":false},"axis":null},"y":{"datum":0.96,"type":"quantitative","scale":{"domain":[-0.06,1.06],"nice":false,"zero":false},"axis":null}}},
{"data":{"values":[{}]},"mark":{"type":"text","text":"Chemoradiotherapy (n=16)","font":"Liberation Sans","fontSize":6,"align":"left","baseline":"middle","fill":"#333333"},"encoding":{"x":{"datum":4.06,"type":"quantitative","scale":{"domain":[-0.3,8.48],"nice":false,"zero":false},"axis":null},"y":{"datum":0.9,"type":"quantitative","scale":{"domain":[-0.06,1.06],"nice":false,"zero":false},"axis":null}}},
{"data":{"values":[{}]},"mark":{"type":"text","text":"Radiotherapy Alone (n=39)","font":"Liberation Sans","fontSize":6,"align":"left","baseline":"middle","fill":"#333333"},"encoding":{"x":{"datum":4.06,"type":"quantitative","scale":{"domain":[-0.3,8.48],"nice":false,"zero":false},"axis":null},"y":{"datum":0.6,"type":"quantitative","scale":{"domain":[-0.06,1.06],"nice":false,"zero":false},"axis":null}}},
{"data":{"name":"risk"},"transform":[{"filter":"datum.g=='P' && datum.a=='CRT'"}],"mark":{"type":"text","font":"Liberation Sans","fontSize":6.5,"baseline":"middle","fill":"#333333"},"encoding":{"x":{"field":"t","type":"quantitative","scale":{"domain":[-0.3,8.48],"nice":false,"zero":false},"axis":null},"y":{"datum":-0.211,"type":"quantitative","scale":{"domain":[-0.06,1.06],"nice":false,"zero":false},"axis":null},"text":{"field":"n"}}},
{"data":{"name":"risk"},"transform":[{"filter":"datum.g=='P' && datum.a=='RT'"}],"mark":{"type":"text","font":"Liberation Sans","fontSize":6.5,"baseline":"middle","fill":"#333333"},"encoding":{"x":{"field":"t","type":"quantitative","scale":{"domain":[-0.3,8.48],"nice":false,"zero":false},"axis":null},"y":{"datum":-0.268,"type":"quantitative","scale":{"domain":[-0.06,1.06],"nice":false,"zero":false},"axis":null},"text":{"field":"n"}}},
{"data":{"values":[{}]},"mark":{"type":"text","text":"CRT","font":"Liberation Sans","fontSize":6,"align":"left","baseline":"middle","fill":"#333333"},"encoding":{"x":{"datum":8.6,"type":"quantitative","scale":{"domain":[-0.3,8.48],"nice":false,"zero":false},"axis":null},"y":{"datum":-0.211,"type":"quantitative","scale":{"domain":[-0.06,1.06],"nice":false,"zero":false},"axis":null}}},
{"data":{"values":[{}]},"mark":{"type":"text","text":"RT","font":"Liberation Sans","fontSize":6,"align":"left","baseline":"middle","fill":"#333333"},"encoding":{"x":{"datum":8.6,"type":"quantitative","scale":{"domain":[-0.3,8.48],"nice":false,"zero":false},"axis":null},"y":{"datum":-0.268,"type":"quantitative","scale":{"domain":[-0.06,1.06],"nice":false,"zero":false},"axis":null}}}
]},
{"width":147,"height":159,"title":"Age≤50","resolve":{"axis":{"x":"independent","y":"independent"}},"layer":[
{"data":{"name":"km"},"transform":[{"filter":"datum.g=='Y'"}],"mark":{"type":"line","interpolate":"step-after","strokeWidth":1.1},"encoding":{"x":{"field":"t","type":"quantitative","scale":{"domain":[-0.54,8.24],"nice":false,"zero":false},"axis":{"values":[0,2,4,6,8],"labelOverlap":false,"title":"Years","titleFontSize":5.5,"titlePadding":0}},"y":{"field":"p","type":"quantitative","scale":{"domain":[-0.05,1.07],"nice":false,"zero":false},"axis":{"values":[0,0.2,0.4,0.6,0.8,1],"labelOverlap":false,"format":".1f","title":"Probability of Vaginal SLT","titlePadding":2}},"color":{"field":"a","type":"nominal","scale":{"domain":["CRT","RT"],"range":["#111111","#777777"]},"legend":null},"strokeDash":{"field":"a","type":"nominal","scale":{"domain":["CRT","RT"],"range":[[1,0],[1.5,1.2]]},"legend":null}}},
{"data":{"name":"cens"},"transform":[{"filter":"datum.g=='Y'"}],"mark":{"type":"point","filled":false,"size":11,"strokeWidth":0.8},"encoding":{"x":{"field":"t","type":"quantitative","scale":{"domain":[-0.54,8.24],"nice":false,"zero":false},"axis":null},"y":{"field":"p","type":"quantitative","scale":{"domain":[-0.05,1.07],"nice":false,"zero":false},"axis":null},"color":{"field":"a","type":"nominal","scale":{"domain":["CRT","RT"],"range":["#111111","#777777"]},"legend":null},"shape":{"field":"a","type":"nominal","scale":{"domain":["CRT","RT"],"range":["M0,-1.3L0,1.3M-1.3,0L1.3,0","circle"]},"legend":null}}},
{"data":{"values":[{}]},"mark":{"type":"text","text":"p","font":"Liberation Sans","fontSize":10,"fontStyle":"italic","align":"left","baseline":"middle","fill":"#111111"},"encoding":{"x":{"datum":0.18,"type":"quantitative","scale":{"domain":[-0.54,8.24],"nice":false,"zero":false},"axis":null},"y":{"datum":0.98,"type":"quantitative","scale":{"domain":[-0.05,1.07],"nice":false,"zero":false},"axis":null}}},
{"data":{"values":[{}]},"mark":{"type":"text","text":"= 0.714","font":"Liberation Sans","fontSize":10,"align":"left","baseline":"middle","dx":9,"fill":"#111111"},"encoding":{"x":{"datum":0.18,"type":"quantitative","scale":{"domain":[-0.54,8.24],"nice":false,"zero":false},"axis":null},"y":{"datum":0.98,"type":"quantitative","scale":{"domain":[-0.05,1.07],"nice":false,"zero":false},"axis":null}}},
{"data":{"values":[{}]},"mark":{"type":"text","text":"Radiotherapy Alone (n=105)","font":"Liberation Sans","fontSize":6,"align":"left","baseline":"middle","fill":"#333333"},"encoding":{"x":{"datum":4.36,"type":"quantitative","scale":{"domain":[-0.54,8.24],"nice":false,"zero":false},"axis":null},"y":{"datum":0.47,"type":"quantitative","scale":{"domain":[-0.05,1.07],"nice":false,"zero":false},"axis":null}}},
{"data":{"values":[{}]},"mark":{"type":"text","text":"Chemoradiotherapy (n=81)","font":"Liberation Sans","fontSize":6,"align":"left","baseline":"middle","fill":"#333333"},"encoding":{"x":{"datum":4.36,"type":"quantitative","scale":{"domain":[-0.54,8.24],"nice":false,"zero":false},"axis":null},"y":{"datum":0.245,"type":"quantitative","scale":{"domain":[-0.05,1.07],"nice":false,"zero":false},"axis":null}}},
{"data":{"name":"risk"},"transform":[{"filter":"datum.g=='Y' && datum.a=='CRT'"}],"mark":{"type":"text","font":"Liberation Sans","fontSize":6.5,"baseline":"middle","fill":"#333333"},"encoding":{"x":{"field":"t","type":"quantitative","scale":{"domain":[-0.54,8.24],"nice":false,"zero":false},"axis":null},"y":{"datum":-0.188,"type":"quantitative","scale":{"domain":[-0.05,1.07],"nice":false,"zero":false},"axis":null},"text":{"field":"n"}}},
{"data":{"name":"risk"},"transform":[{"filter":"datum.g=='Y' && datum.a=='RT'"}],"mark":{"type":"text","font":"Liberation Sans","fontSize":6.5,"baseline":"middle","fill":"#333333"},"encoding":{"x":{"field":"t","type":"quantitative","scale":{"domain":[-0.54,8.24],"nice":false,"zero":false},"axis":null},"y":{"datum":-0.247,"type":"quantitative","scale":{"domain":[-0.05,1.07],"nice":false,"zero":false},"axis":null},"text":{"field":"n"}}},
{"data":{"values":[{}]},"mark":{"type":"text","text":"CRT","font":"Liberation Sans","fontSize":6,"align":"left","baseline":"middle","fill":"#333333"},"encoding":{"x":{"datum":9.37,"type":"quantitative","scale":{"domain":[-0.54,8.24],"nice":false,"zero":false},"axis":null},"y":{"datum":-0.188,"type":"quantitative","scale":{"domain":[-0.05,1.07],"nice":false,"zero":false},"axis":null}}},
{"data":{"values":[{}]},"mark":{"type":"text","text":"RT","font":"Liberation Sans","fontSize":6,"align":"left","baseline":"middle","fill":"#333333"},"encoding":{"x":{"datum":9.37,"type":"quantitative","scale":{"domain":[-0.54,8.24],"nice":false,"zero":false},"axis":null},"y":{"datum":-0.247,"type":"quantitative","scale":{"domain":[-0.05,1.07],"nice":false,"zero":false},"axis":null}}},
{"data":{"values":[{}]},"mark":{"type":"text","text":"No. at risk:","font":"Liberation Sans","fontSize":6.5,"align":"right","baseline":"middle","fill":"#333333"},"encoding":{"x":{"datum":-0.54,"type":"quantitative","scale":{"domain":[-0.54,8.24],"nice":false,"zero":false},"axis":null},"y":{"datum":-0.188,"type":"quantitative","scale":{"domain":[-0.05,1.07],"nice":false,"zero":false},"axis":null}}},
{"data":{"values":[{}]},"mark":{"type":"text","text":"B.","font":"Liberation Sans","fontSize":16,"align":"left","baseline":"middle","fill":"#111111"},"encoding":{"x":{"datum":-3.52,"type":"quantitative","scale":{"domain":[-0.54,8.24],"nice":false,"zero":false},"axis":null},"y":{"datum":-0.266,"type":"quantitative","scale":{"domain":[-0.05,1.07],"nice":false,"zero":false},"axis":null}}}
]},
{"width":147,"height":159,"title":"Age>50","resolve":{"axis":{"x":"independent","y":"independent"}},"layer":[
{"data":{"name":"km"},"transform":[{"filter":"datum.g=='O'"}],"mark":{"type":"line","interpolate":"step-after","strokeWidth":1.1},"encoding":{"x":{"field":"t","type":"quantitative","scale":{"domain":[-0.51,8.28],"nice":false,"zero":false},"axis":{"values":[0,2,4,6,8],"labelOverlap":false,"title":"Years","titleFontSize":5.5,"titlePadding":0}},"y":{"field":"p","type":"quantitative","scale":{"domain":[-0.05,1.07],"nice":false,"zero":false},"axis":{"values":[0,0.2,0.4,0.6,0.8,1],"labelOverlap":false,"format":".1f","title":"Probability of Vaginal SLT","titleFontSize":5.5,"titleFontWeight":"normal","titlePadding":2}},"color":{"field":"a","type":"nominal","scale":{"domain":["CRT","RT"],"range":["#111111","#777777"]},"legend":null},"strokeDash":{"field":"a","type":"nominal","scale":{"domain":["CRT","RT"],"range":[[1,0],[1.5,1.2]]},"legend":null}}},
{"data":{"name":"cens"},"transform":[{"filter":"datum.g=='O'"}],"mark":{"type":"point","filled":false,"size":11,"strokeWidth":0.8},"encoding":{"x":{"field":"t","type":"quantitative","scale":{"domain":[-0.51,8.28],"nice":false,"zero":false},"axis":null},"y":{"field":"p","type":"quantitative","scale":{"domain":[-0.05,1.07],"nice":false,"zero":false},"axis":null},"color":{"field":"a","type":"nominal","scale":{"domain":["CRT","RT"],"range":["#111111","#777777"]},"legend":null},"shape":{"field":"a","type":"nominal","scale":{"domain":["CRT","RT"],"range":["M0,-1.3L0,1.3M-1.3,0L1.3,0","circle"]},"legend":null}}},
{"data":{"values":[{}]},"mark":{"type":"text","text":"p","font":"Liberation Sans","fontSize":10,"fontStyle":"italic","align":"left","baseline":"middle","fill":"#111111"},"encoding":{"x":{"datum":0.17,"type":"quantitative","scale":{"domain":[-0.51,8.28],"nice":false,"zero":false},"axis":null},"y":{"datum":0.98,"type":"quantitative","scale":{"domain":[-0.05,1.07],"nice":false,"zero":false},"axis":null}}},
{"data":{"values":[{}]},"mark":{"type":"text","text":"= 0.014","font":"Liberation Sans","fontSize":10,"align":"left","baseline":"middle","dx":9,"fill":"#111111"},"encoding":{"x":{"datum":0.17,"type":"quantitative","scale":{"domain":[-0.51,8.28],"nice":false,"zero":false},"axis":null},"y":{"datum":0.98,"type":"quantitative","scale":{"domain":[-0.05,1.07],"nice":false,"zero":false},"axis":null}}},
{"data":{"values":[{}]},"mark":{"type":"text","text":"Chemoradiotherapy (n=87)","font":"Liberation Sans","fontSize":6,"align":"left","baseline":"middle","fill":"#333333"},"encoding":{"x":{"datum":4.9,"type":"quantitative","scale":{"domain":[-0.51,8.28],"nice":false,"zero":false},"axis":null},"y":{"datum":0.62,"type":"quantitative","scale":{"domain":[-0.05,1.07],"nice":false,"zero":false},"axis":null}}},
{"data":{"values":[{}]},"mark":{"type":"text","text":"Radiotherapy Alone (n=74)","font":"Liberation Sans","fontSize":6,"align":"left","baseline":"middle","fill":"#333333"},"encoding":{"x":{"datum":4.9,"type":"quantitative","scale":{"domain":[-0.51,8.28],"nice":false,"zero":false},"axis":null},"y":{"datum":0.435,"type":"quantitative","scale":{"domain":[-0.05,1.07],"nice":false,"zero":false},"axis":null}}},
{"data":{"name":"risk"},"transform":[{"filter":"datum.g=='O' && datum.a=='CRT'"}],"mark":{"type":"text","font":"Liberation Sans","fontSize":6.5,"baseline":"middle","fill":"#333333"},"encoding":{"x":{"field":"t","type":"quantitative","scale":{"domain":[-0.51,8.28],"nice":false,"zero":false},"axis":null},"y":{"datum":-0.188,"type":"quantitative","scale":{"domain":[-0.05,1.07],"nice":false,"zero":false},"axis":null},"text":{"field":"n"}}},
{"data":{"name":"risk"},"transform":[{"filter":"datum.g=='O' && datum.a=='RT'"}],"mark":{"type":"text","font":"Liberation Sans","fontSize":6.5,"baseline":"middle","fill":"#333333"},"encoding":{"x":{"field":"t","type":"quantitative","scale":{"domain":[-0.51,8.28],"nice":false,"zero":false},"axis":null},"y":{"datum":-0.247,"type":"quantitative","scale":{"domain":[-0.05,1.07],"nice":false,"zero":false},"axis":null},"text":{"field":"n"}}},
{"data":{"values":[{}]},"mark":{"type":"text","text":"CRT","font":"Liberation Sans","fontSize":6,"align":"left","baseline":"middle","fill":"#333333"},"encoding":{"x":{"datum":9.06,"type":"quantitative","scale":{"domain":[-0.51,8.28],"nice":false,"zero":false},"axis":null},"y":{"datum":-0.188,"type":"quantitative","scale":{"domain":[-0.05,1.07],"nice":false,"zero":false},"axis":null}}},
{"data":{"values":[{}]},"mark":{"type":"text","text":"RT","font":"Liberation Sans","fontSize":6,"align":"left","baseline":"middle","fill":"#333333"},"encoding":{"x":{"datum":9.06,"type":"quantitative","scale":{"domain":[-0.51,8.28],"nice":false,"zero":false},"axis":null},"y":{"datum":-0.247,"type":"quantitative","scale":{"domain":[-0.05,1.07],"nice":false,"zero":false},"axis":null}}}
]}
],
"config":{
"view":{"stroke":"#777777","strokeWidth":1},
"axis":{"domain":false,"grid":false,"labelOverlap":false,"tickColor":"#666666","tickSize":3,"labelFont":"Liberation Sans","labelFontSize":6,"labelColor":"#333333","labelPadding":1,"titleFont":"Liberation Sans","titleFontSize":7,"titleFontWeight":"bold","titleColor":"#111111"},
"title":{"font":"Liberation Sans","fontSize":8,"fontWeight":"normal","color":"#333333","offset":-1}
}
}
